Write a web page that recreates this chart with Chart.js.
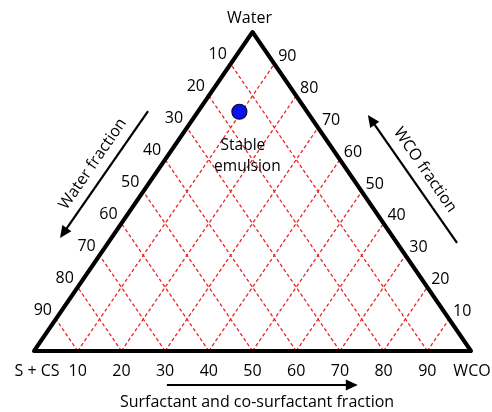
<!DOCTYPE html>
<html>
<head>
<meta charset="utf-8">
<script src="https://cdn.jsdelivr.net/npm/chart.js@4"></script>
<style>
  html, body { margin: 0; padding: 0; background: #fff; }
  #wrap { width: 492px; height: 412px; position: relative; }
</style>
</head>
<body>
<div id="wrap"><canvas id="c" width="492" height="412"></canvas></div>
<script>
// Grid steps (percent) used for the dashed lattice and the side tick labels
const gridSteps = [10, 20, 30, 40, 50, 60, 70, 80, 90];
const bottomTickLabels = ['10', '20', '30', '40', '50', '60', '70', '80', '90'];
const leftTickLabels = ['10', '20', '30', '40', '50', '60', '70', '80', '90'];
const rightTickLabels = ['10', '20', '30', '40', '50', '60', '70', '80', '90'];
const vertexNames = ['Water', 'S + CS', 'WCO'];
const axisTitles = ['Water fraction', 'WCO fraction', 'Surfactant and co-surfactant fraction'];

// Stable emulsion composition (percent)
const pointWater = [75];
const pointWCO = [9.5];
const pointSCS = [15.5];
const pointLabel = ['Stable', 'emulsion'];

// ternary (water, wco) -> cartesian; water is the height, WCO vertex on the right
function toXY(water, wco) {
  return { x: wco + water / 2, y: water };
}

const datasets = [];

// composition point (first dataset is painted on top)
datasets.push({
  data: pointWater.map((w, i) => toXY(w, pointWCO[i])),
  showLine: false, pointRadius: 7.5, pointBackgroundColor: '#0a10f5',
  pointBorderColor: '#0a0a30', pointBorderWidth: 1.2, clip: false
});

// triangle outline
datasets.push({
  data: [toXY(0, 0), toXY(100, 0), toXY(0, 100), toXY(0, 0)],
  showLine: true, borderColor: '#000', borderWidth: 4,
  borderJoinStyle: 'round', borderCapStyle: 'round', pointRadius: 0, clip: false
});

// dashed lattice: lines of constant WCO and lines of constant S+CS
const gridStyle = {
  showLine: true, borderColor: 'rgb(236,34,38)', borderWidth: 1.3,
  borderDash: [3.5, 2.5], pointRadius: 0, clip: false
};
gridSteps.forEach(v => {
  datasets.push(Object.assign({ data: [toXY(0, v), toXY(100 - v, v)] }, gridStyle));
  datasets.push(Object.assign({ data: [toXY(0, 100 - v), toXY(100 - v, 0)] }, gridStyle));
});

const FONT = '"Open Sans", sans-serif';

function arrow(ctx, x1, y1, x2, y2) {
  const ang = Math.atan2(y2 - y1, x2 - x1);
  const head = 12, half = 5.5;
  ctx.save();
  ctx.strokeStyle = '#000';
  ctx.fillStyle = '#000';
  ctx.lineWidth = 2.2;
  ctx.beginPath();
  ctx.moveTo(x1, y1);
  ctx.lineTo(x2 - Math.cos(ang) * head * 0.8, y2 - Math.sin(ang) * head * 0.8);
  ctx.stroke();
  ctx.beginPath();
  ctx.moveTo(x2, y2);
  ctx.lineTo(x2 - Math.cos(ang) * head + Math.sin(ang) * half, y2 - Math.sin(ang) * head - Math.cos(ang) * half);
  ctx.lineTo(x2 - Math.cos(ang) * head - Math.sin(ang) * half, y2 - Math.sin(ang) * head + Math.cos(ang) * half);
  ctx.closePath();
  ctx.fill();
  ctx.restore();
}

const annotate = {
  id: 'annotate',
  afterDatasetsDraw(chart) {
    const ctx = chart.ctx;
    const xs = chart.scales.x, ys = chart.scales.y;
    const px = v => xs.getPixelForValue(v);
    const py = v => ys.getPixelForValue(v);
    const sideAng = Math.atan2(py(0) - py(100), px(50) - px(0));

    ctx.save();
    ctx.fillStyle = '#000';
    ctx.textAlign = 'center';
    ctx.textBaseline = 'middle';
    ctx.font = '16px ' + FONT;

    // bottom ticks
    gridSteps.forEach((v, i) => {
      ctx.fillText(bottomTickLabels[i], px(v), py(0) + 20);
    });
    // left side ticks (10 near the top)
    gridSteps.forEach((v, i) => {
      const p = toXY(100 - v, 0);
      ctx.fillText(leftTickLabels[i], px(p.x) - 13, py(p.y) - 9);
    });
    // right side ticks (90 near the top)
    gridSteps.forEach((v, i) => {
      const p = toXY(v, 100 - v);
      ctx.fillText(rightTickLabels[i], px(p.x) + 13, py(p.y) - 7.5);
    });

    // vertex names
    ctx.fillText(vertexNames[0], px(50) - 3, py(100) - 14);
    ctx.fillText(vertexNames[1], px(0) + 3, py(0) + 20);
    ctx.fillText(vertexNames[2], px(100) + 1, py(0) + 20);

    // point label
    ctx.font = '15.5px ' + FONT;
    const p0 = toXY(pointWater[0], pointWCO[0]);
    ctx.fillText(pointLabel[0], px(p0.x) + 3.5, py(p0.y) + 33.5);
    ctx.fillText(pointLabel[1], px(p0.x) + 8, py(p0.y) + 54.5);

    // axis arrows
    arrow(ctx, px(26.1), py(75.2), px(5.95), py(35.4));
    arrow(ctx, px(96.8), py(33.9), px(76.4), py(74.0));
    arrow(ctx, px(30.4), py(-10.66), px(74.1), py(-10.66));

    // axis titles
    ctx.font = '16px ' + FONT;
    ctx.save();
    ctx.translate(93, 164);
    ctx.rotate(-sideAng);
    ctx.fillText(axisTitles[0], 0, 0);
    ctx.restore();
    ctx.save();
    ctx.translate(425, 170);
    ctx.rotate(sideAng);
    ctx.fillText(axisTitles[1], 0, 0);
    ctx.restore();
    ctx.fillText(axisTitles[2], 257, py(0) + 51.5);
    ctx.restore();
  }
};

new Chart(document.getElementById('c'), {
  type: 'scatter',
  data: { datasets },
  options: {
    responsive: false,
    animation: false,
    events: [],
    layout: { padding: { left: 34, right: 21, top: 32, bottom: 61 } },
    scales: {
      x: { type: 'linear', min: 0, max: 100, display: false },
      y: { type: 'linear', min: 0, max: 100, display: false }
    },
    plugins: { legend: { display: false }, tooltip: { enabled: false } }
  },
  plugins: [annotate]
});
</script>
</body>
</html>
